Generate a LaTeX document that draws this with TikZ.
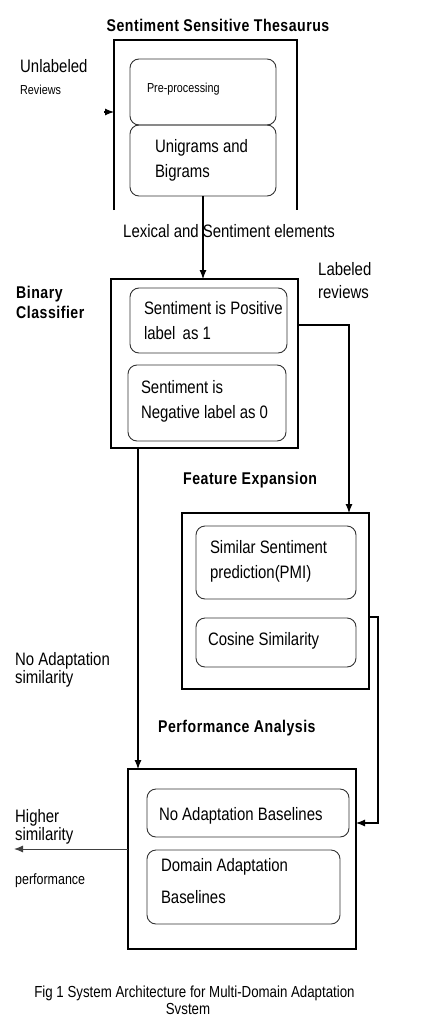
\documentclass[tikz,border=0pt]{standalone}
\usepackage{fontspec}
\setmainfont{Liberation Sans}[FakeStretch=0.83]
\newfontfamily\boldttl{Liberation Sans Bold}[FakeStretch=0.83,LetterSpace=3]
\usetikzlibrary{arrows.meta}
\newcommand\bodyfont{\fontsize{18}{25}\selectfont}
\newcommand\smallfnt{\fontsize{13}{15}\selectfont}
\newcommand\perffnt{\fontsize{15}{17}\selectfont}
\newcommand\capfnt{\fontsize{16}{14}\selectfont}
\newcommand\ttlfnt{\boldttl\fontsize{17}{20}\selectfont}
\begin{document}
\begin{tikzpicture}[x=1pt,y=-1pt,
  outerbox/.style={draw, line width=1.2pt, inner sep=0pt, outer sep=0pt},
  rbox/.style={draw=black!80, line width=0.9pt, rounded corners=9pt, inner sep=0pt, outer sep=0pt},
  txt/.style={inner sep=0pt, outer sep=0pt, font=\bodyfont, align=left, anchor=west},
  lbl/.style={inner sep=0pt, anchor=base west, font=\bodyfont},
  ttl/.style={inner sep=0pt, anchor=base west, font=\ttlfnt},
  conn/.style={line width=1.1pt, -{Latex[length=9pt,width=7pt]}},
]
\useasboundingbox (0,0) rectangle (424,1027);

% ---- Sentiment Sensitive Thesaurus (open box)
\coordinate (t1) at (114,210);
\coordinate (t2) at (114,40);
\coordinate (t3) at (297,40);
\coordinate (t4) at (297,210);
\draw[line width=1.2pt] (t1) -- (t2) -- (t3) -- (t4);
\node[ttl, anchor=base] (title) at (218,32) {Sentiment Sensitive Thesaurus};

\node[rbox, minimum width=146, minimum height=66] (pre) at (203,92) {};
\node[txt, font=\smallfnt] (pret) at ([xshift=17pt,yshift=3pt]pre.west) {Pre-processing};
\node[rbox, minimum width=146, minimum height=71] (uni) at (203,160.5) {};
\node[txt] (unit) at ([xshift=25pt]uni.west) {Unigrams and\\Bigrams};

\node[lbl] (unl) at (20,73) {Unlabeled};
\node[lbl, font=\smallfnt] (rev) at (20,95) {Reviews};
\coordinate (in) at (104,112);
\coordinate (inend) at (114,112);
\draw[conn] (in) -- (inend);

\node[lbl] (lex) at (123,237) {Lexical and Sentiment elements};

% ---- Binary classifier
\node[outerbox, minimum width=187, minimum height=169] (bin) at (204.5,363.5) {};
\node[ttl] (bin1) at (16,298) {Binary};
\node[ttl] (bin2) at (16,318) {Classifier};
\node[rbox, minimum width=157, minimum height=65] (pos) at (208.5,320.5) {};
\node[txt] (post) at ([xshift=14pt]pos.west) {Sentiment is Positive\\label\, as 1};
\node[rbox, minimum width=158, minimum height=76] (neg) at (207,403) {};
\node[txt] (negt) at ([xshift=13pt,yshift=2pt]neg.west) {Sentiment is\\Negative label as 0};

\draw[conn] (uni.south) -- (uni.south |- bin.north);

\node[lbl] (lab1) at (318,275) {Labeled};
\node[lbl] (lab2) at (318,298) {reviews};

% ---- Feature expansion
\node[ttl] (fe) at (183,484) {Feature Expansion};
\node[outerbox, minimum width=187, minimum height=176] (feat) at (275.5,601) {};
\node[rbox, minimum width=160, minimum height=73] (sim) at (276,562.5) {};
\node[txt] (simt) at ([xshift=14pt,yshift=1pt]sim.west) {Similar Sentiment\\prediction(PMI)};
\node[rbox, minimum width=160, minimum height=49] (cos) at (276,642.5) {};
\node[txt] (cost) at ([xshift=12pt,yshift=2pt]cos.west) {Cosine Similarity};

\coordinate (bA) at (298,325);
\coordinate (bB) at (349,325);
\draw[conn] (bin.east |- bA) -- (bB) -- (bB |- feat.north);

% ---- Performance analysis
\node[ttl] (pa) at (158,732) {Performance Analysis};
\node[outerbox, minimum width=228, minimum height=180] (perf) at (242,859) {};
\node[rbox, minimum width=202, minimum height=48] (noad) at (248,813) {};
\node[txt] (noadt) at ([xshift=12pt,yshift=-3pt]noad.west) {No Adaptation Baselines};
\node[rbox, minimum width=193, minimum height=74] (dom) at (243.5,887) {};
\node[txt] (domt) at ([xshift=14pt,yshift=6pt]dom.west) {Domain Adaptation\\[7pt]Baselines};

\node[lbl] (na1) at (15,665) {No Adaptation};
\node[lbl] (na2) at (15,683) {similarity};

\coordinate (c1) at (138,0);
\draw[conn] (bin.south -| c1) -- (perf.north -| c1);

\coordinate (c2) at (378,617);
\coordinate (c3) at (378,823);
\draw[conn] (feat.east |- c2) -- (c2) -- (c3) -- (perf.east |- c3);

\coordinate (out) at (14,849);
\draw[conn, line width=1pt, black!75] (perf.west |- out) -- (out);
\node[lbl] (hi1) at (15,822) {Higher};
\node[lbl] (hi2) at (15,840) {similarity};
\node[lbl, font=\perffnt] (perft) at (15,884) {performance};

% ---- caption
\node[lbl, font=\capfnt, anchor=base] (cap1) at (194.5,997) {Fig 1 System Architecture for Multi-Domain Adaptation};
\node[lbl, font=\capfnt, anchor=base] (cap2) at (188,1014) {Svstem};
\end{tikzpicture}
\end{document}
